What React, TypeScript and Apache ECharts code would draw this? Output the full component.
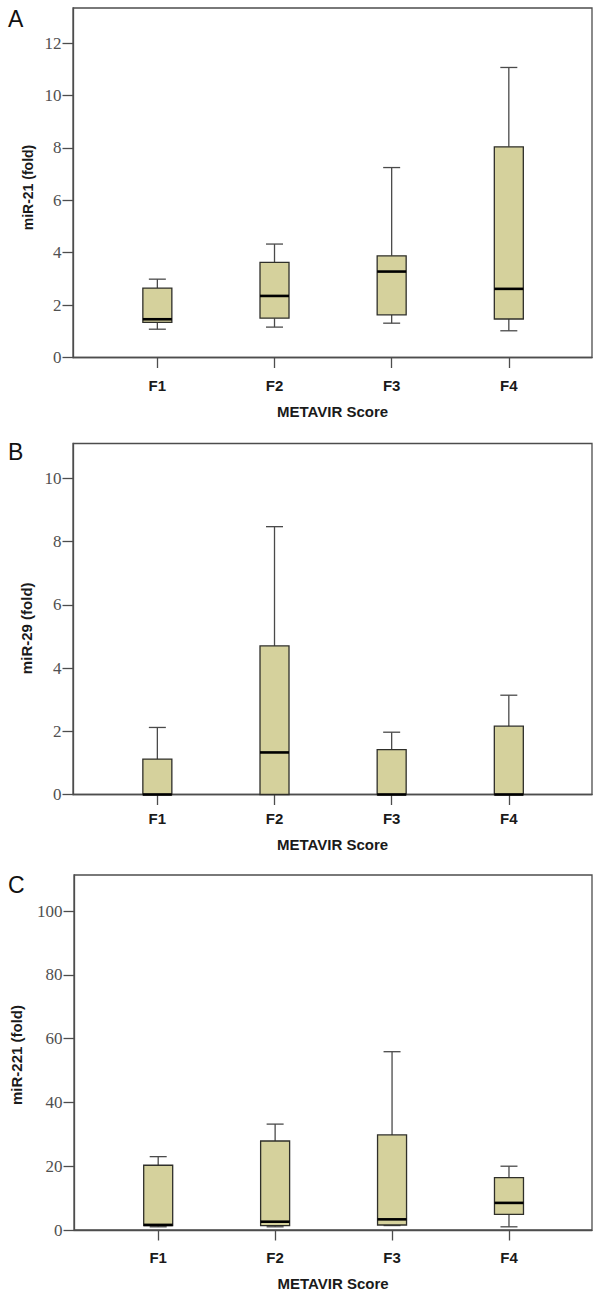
import React, { useEffect, useRef } from 'react';
import * as echarts from 'echarts';

// ---- data ----
const categories = ['F1', 'F2', 'F3', 'F4'];
const xTickValues = [0, 1, 2, 3];

const yTicksA = [0, 2, 4, 6, 8, 10, 12];
const yTicksB = [0, 2, 4, 6, 8, 10];
const yTicksC = [0, 20, 40, 60, 80, 100];

// miR-21 (panel A)
const mir21Low = [1.08, 1.16, 1.31, 1.02];
const mir21Q1 = [1.34, 1.5, 1.63, 1.47];
const mir21Median = [1.46, 2.35, 3.28, 2.62];
const mir21Q3 = [2.65, 3.63, 3.88, 8.04];
const mir21High = [2.99, 4.33, 7.25, 11.07];

// miR-29 (panel B)
const mir29Low = [0, 0, 0, 0];
const mir29Q1 = [0, 0, 0, 0];
const mir29Median = [0, 1.33, 0, 0];
const mir29Q3 = [1.12, 4.7, 1.42, 2.16];
const mir29High = [2.12, 8.47, 1.97, 3.14];

// miR-221 (panel C)
const mir221Low = [1.0, 1.0, 1.4, 1.0];
const mir221Q1 = [1.35, 1.35, 1.57, 4.9];
const mir221Median = [1.6, 2.6, 3.34, 8.5];
const mir221Q3 = [20.3, 27.9, 29.8, 16.4];
const mir221High = [23.0, 33.2, 55.9, 20.0];

const toRows = (lo: number[], q1: number[], med: number[], q3: number[], hi: number[]) =>
  categories.map((_, i) => [i, lo[i], q1[i], med[i], q3[i], hi[i]]);

// ---- styles ----
const BOX_FILL = '#d5d19c';
const BOX_STROKE = '#2f2f2a';
const WHISKER = '#4a4a4a';
const AXIS_COLOR = '#4d4d4d';
const SANS = 'Liberation Sans, Arial, sans-serif';
const SERIF = 'Liberation Serif, Times New Roman, serif';

const renderBox = (params: any, api: any) => {
  const i = api.value(0);
  const lo = api.value(1);
  const q1 = api.value(2);
  const med = api.value(3);
  const q3 = api.value(4);
  const hi = api.value(5);
  const [cx, yLo] = api.coord([i, lo]);
  const yQ1 = api.coord([i, q1])[1];
  const yMed = api.coord([i, med])[1];
  const yQ3 = api.coord([i, q3])[1];
  const yHi = api.coord([i, hi])[1];
  const half = 14.5;
  const cap = 8.5;
  const wStyle = { stroke: WHISKER, lineWidth: 1.3 };
  const children: any[] = [];
  if (hi > q3) {
    children.push({ type: 'line', shape: { x1: cx, y1: yQ3, x2: cx, y2: yHi }, style: wStyle });
    children.push({ type: 'line', shape: { x1: cx - cap, y1: yHi, x2: cx + cap, y2: yHi }, style: wStyle });
  }
  if (lo < q1) {
    children.push({ type: 'line', shape: { x1: cx, y1: yQ1, x2: cx, y2: yLo }, style: wStyle });
    children.push({ type: 'line', shape: { x1: cx - cap, y1: yLo, x2: cx + cap, y2: yLo }, style: wStyle });
  }
  children.push({
    type: 'rect',
    shape: { x: cx - half, y: yQ3, width: half * 2, height: yQ1 - yQ3 },
    style: { fill: BOX_FILL, stroke: BOX_STROKE, lineWidth: 1.3 },
  });
  children.push({
    type: 'line',
    shape: { x1: cx - half, y1: yMed, x2: cx + half, y2: yMed },
    style: { stroke: '#000', lineWidth: 2.6 },
  });
  return { type: 'group', children };
};

const panels = [
  {
    grid: { left: 73, top: 8, width: 519, height: 349.5 },
    yMax: 13.34,
    yTicks: yTicksA,
    rows: toRows(mir21Low, mir21Q1, mir21Median, mir21Q3, mir21High),
    labelMargin: 20,
    nameGap: 46,
  },
  {
    grid: { left: 73, top: 443.5, width: 519, height: 351 },
    yMax: 11.1,
    yTicks: yTicksB,
    rows: toRows(mir29Low, mir29Q1, mir29Median, mir29Q3, mir29High),
    labelMargin: 16,
    nameGap: 42,
  },
  {
    grid: { left: 74, top: 875, width: 518, height: 355 },
    yMax: 111.3,
    yTicks: yTicksC,
    rows: toRows(mir221Low, mir221Q1, mir221Median, mir221Q3, mir221High),
    labelMargin: 19.5,
    nameGap: 46,
  },
];

const panelLetters = [
  { text: 'A', x: 8, y: 18.5 },
  { text: 'B', x: 8, y: 451.7 },
  { text: 'C', x: 8, y: 885 },
];

const yNames = [
  { text: 'miR-21 (fold)', x: 28.3, y: 187.5, size: 14 },
  { text: 'miR-29 (fold)', x: 26.7, y: 628.3, size: 15 },
  { text: 'miR-221 (fold)', x: 16.7, y: 1055, size: 15 },
];

export default function App() {
  const ref = useRef<HTMLDivElement>(null);

  useEffect(() => {
    document.body.style.margin = '0';
    if (!ref.current) return;
    const chart = echarts.init(ref.current, undefined, { renderer: 'svg' });

    const option: any = {
      animation: false,
      backgroundColor: '#ffffff',
      grid: panels.map((p) => ({
        ...p.grid,
        show: true,
        borderColor: AXIS_COLOR,
        borderWidth: 1.3,
        backgroundColor: 'transparent',
        containLabel: false,
      })),
      xAxis: panels.map((p, k) => ({
        gridIndex: k,
        type: 'value',
        position: 'bottom',
        min: -0.72,
        max: 3.71,
        splitLine: { show: false },
        axisLine: { show: true, onZero: false, lineStyle: { color: AXIS_COLOR, width: 1.3 } },
        axisTick: {
          show: true,
          customValues: xTickValues,
          length: 10.5,
          lineStyle: { color: AXIS_COLOR, width: 1.3 },
        },
        axisLabel: {
          customValues: xTickValues,
          formatter: (v: number) => categories[Math.round(v)] ?? '',
          margin: p.labelMargin,
          fontFamily: SANS,
          fontWeight: 'bold',
          fontSize: 15,
          color: '#1a1a1a',
        },
        name: 'METAVIR Score',
        nameLocation: 'middle',
        nameGap: p.nameGap,
        nameTextStyle: { fontFamily: SANS, fontWeight: 'bold', fontSize: 15, color: '#1a1a1a' },
      })),
      yAxis: panels.map((p, k) => ({
        gridIndex: k,
        type: 'value',
        position: 'left',
        min: 0,
        max: p.yMax,
        splitLine: { show: false },
        axisLine: { show: true, onZero: false, lineStyle: { color: AXIS_COLOR, width: 1.3 } },
        axisTick: {
          show: true,
          customValues: p.yTicks,
          length: 10.5,
          lineStyle: { color: AXIS_COLOR, width: 1.3 },
        },
        axisLabel: {
          customValues: p.yTicks,
          margin: 11.5,
          fontFamily: SERIF,
          fontSize: 17,
          color: '#505050',
        },
      })),
      series: panels.map((p, k) => ({
        type: 'custom',
        xAxisIndex: k,
        yAxisIndex: k,
        renderItem: renderBox,
        encode: { x: 0, y: [1, 2, 3, 4, 5] },
        data: p.rows,
        z: 3,
      })),
      graphic: [
        ...panelLetters.map((l) => ({
          type: 'text',
          x: l.x,
          y: l.y,
          style: {
            text: l.text,
            fontFamily: SANS,
            fontSize: 23,
            fill: '#111',
            align: 'left',
            verticalAlign: 'middle',
          },
        })),
        ...yNames.map((n) => ({
          type: 'text',
          x: n.x,
          y: n.y,
          rotation: Math.PI / 2,
          style: {
            text: n.text,
            fontFamily: SANS,
            fontWeight: 'bold',
            fontSize: n.size,
            fill: '#1a1a1a',
            align: 'center',
            verticalAlign: 'middle',
          },
        })),
      ],
    };

    chart.setOption(option);
    return () => chart.dispose();
  }, []);

  return <div ref={ref} style={{ width: 600, height: 1295 }} />;
}
